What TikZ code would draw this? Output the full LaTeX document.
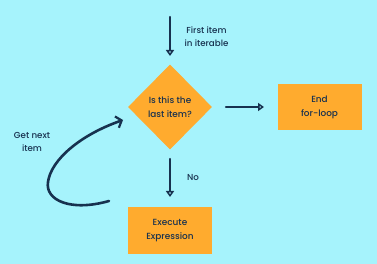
\documentclass[tikz,border=0pt]{standalone}
\usepackage{fontspec}
\setmainfont{Poppins}[UprightFont={* Medium}]
\usetikzlibrary{arrows.meta,shapes.geometric}
\definecolor{bg}{HTML}{A6F3FC}
\definecolor{org}{HTML}{FFAB2E}
\definecolor{ink}{HTML}{17314F}
\tikzset{
  box/.style={fill=org, draw=none, minimum width=84pt, minimum height=46pt, align=center, font=\fontsize{8.9}{14}\selectfont, text=ink},
  dia/.style={diamond, fill=org, draw=none, minimum width=84pt, minimum height=85pt, inner sep=0pt, align=center, font=\fontsize{8.9}{14}\selectfont, text=ink, aspect=1},
  lbl/.style={align=center, font=\fontsize{8.7}{13}\selectfont, text=ink},
  conn/.style={draw=ink, line width=2.2pt, line cap=round, -{Triangle[open, length=6pt, width=8pt, line width=1.6pt]}},
}
\begin{document}
\begin{tikzpicture}[x=1pt, y=-1pt]
\fill[bg] (0,0) rectangle (377,264);
\useasboundingbox (0,0) rectangle (377,264);
\node[dia] (q) at (170,107) {Is this the\\last item?};
\node[box] (end) at (319.5,107) {End\\for-loop};
\node[box] (ex) at (170,230.5) {Execute\\Expression};
\coordinate (s) at (170,17);
\coordinate (sa) at (170,56);
\draw[conn] (s) -- (sa);
\node[lbl] (first) at (206.5,36.5) {First item\\in iterable};
\coordinate (r1) at (226,107);
\coordinate (r2) at (264,107);
\draw[conn] (r1) -- (r2);
\coordinate (d1) at (170,159);
\coordinate (d2) at (170,197);
\draw[conn] (d1) -- (d2);
\node[lbl] (no) at (193,178) {No};
\node[lbl] (get) at (32,142) {Get next\\item};
\coordinate (c0) at (109,201);
\coordinate (c1) at (123,120);
\draw[ink, line width=2.6pt, line cap=round, -{Straight Barb[length=5pt, width=12pt, line width=2.2pt]}]
  (c0) .. controls (70,212) and (45,200) .. (48,182)
       .. controls (51,160) and (80,135) .. (c1);
\end{tikzpicture}
\end{document}
